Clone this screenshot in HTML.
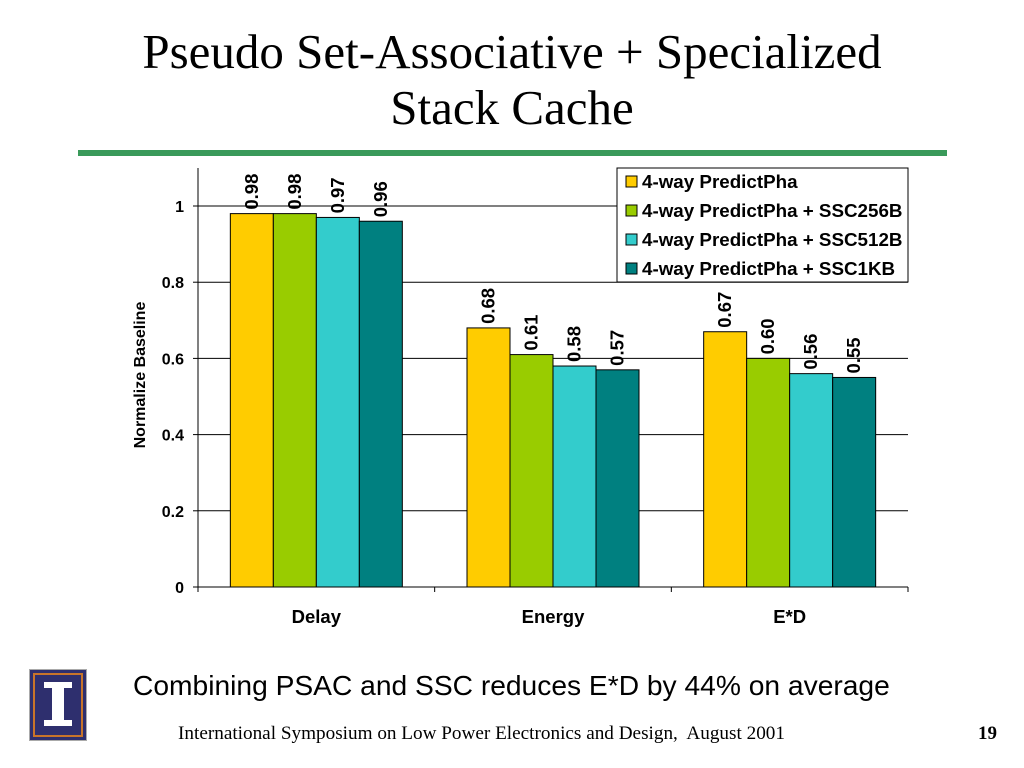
<!DOCTYPE html>
<html><head><meta charset="utf-8"><style>
body{margin:0;width:1024px;height:768px;background:#fff;overflow:hidden;position:relative;font-family:"Liberation Sans",sans-serif}
.t{position:absolute;left:0;width:1024px;text-align:center;font-family:"Liberation Serif",serif;font-size:49px;line-height:56px;color:#000}
</style></head><body>
<div class="t" style="top:24px">Pseudo Set-Associative + Specialized<br>Stack Cache</div>
<div style="position:absolute;left:78px;top:150px;width:869px;height:6px;background:#3a9a5a"></div>
<svg id="chart" width="1024" height="768" style="position:absolute;left:0;top:0">
</svg>
<div style="position:absolute;left:133px;top:669px;font-size:28.2px;color:#000">Combining PSAC and SSC reduces E*D by 44% on average</div>
<div style="position:absolute;left:178px;top:723px;font-family:'Liberation Serif',serif;font-size:19.2px">International Symposium on Low Power Electronics and Design,&nbsp; August 2001</div>
<div style="position:absolute;left:978px;top:723px;font-family:'Liberation Serif',serif;font-size:19px;font-weight:bold">19</div>
<div style="position:absolute;left:29px;top:669px;width:56px;height:70px;background:#2e2f6e;border:1px solid #aaa">
<div style="position:absolute;left:3px;top:3px;width:46px;height:60px;border:2px solid #c8742a"></div>
<div style="position:absolute;left:14px;top:12px;width:28px;height:6px;background:#fff"></div>
<div style="position:absolute;left:22px;top:16px;width:12px;height:36px;background:#fff"></div>
<div style="position:absolute;left:14px;top:50px;width:28px;height:6px;background:#fff"></div>
</div>
<script>
const categories=["Delay","Energy","E*D"];
const seriesNames=["4-way PredictPha","4-way PredictPha + SSC256B","4-way PredictPha + SSC512B","4-way PredictPha + SSC1KB"];
const s1=[0.98,0.68,0.67];
const s2=[0.98,0.61,0.60];
const s3=[0.97,0.58,0.56];
const s4=[0.96,0.57,0.55];
const yTicks=[0,0.2,0.4,0.6,0.8,1];
const yTickLabels=["0","0.2","0.4","0.6","0.8","1"];
const series=[s1,s2,s3,s4];
const colors=["#ffcc00","#99cc00","#33cccc","#008080"];
const svg=document.getElementById('chart');
const NS="http://www.w3.org/2000/svg";
const X0=198,X1=908,Y0=587,Y1=206;
const y=v=>Y0-(Y0-Y1)*v;
const gw=(X1-X0)/categories.length;
const bw=43;
function mk(t,a){const e=document.createElementNS(NS,t);for(const k in a)e.setAttribute(k,a[k]);svg.appendChild(e);return e;}
yTicks.forEach((v,i)=>{
 if(v>0){const g=mk('line',{x1:X0,x2:X1,y1:y(v),y2:y(v),stroke:'#000','stroke-width':1});
 
 }
 const tk=mk('line',{x1:X0-5,x2:X0,y1:y(v),y2:y(v),stroke:'#000'});
 
 
 const t=mk('text',{x:X0-14,y:y(v)+6,'text-anchor':'end','font-size':16,'font-weight':'bold','font-family':'Liberation Sans'});
 t.textContent=yTickLabels[i];
 
 
});
const ya=mk('line',{x1:X0,x2:X0,y1:168,y2:Y0,stroke:'#000'});


const xa=mk('line',{x1:X0,x2:X1,y1:Y0,y2:Y0,stroke:'#000'});


for(let i=0;i<=categories.length;i++){const l=mk('line',{x1:X0+gw*i,x2:X0+gw*i,y1:Y0,y2:Y0+5,stroke:'#000'});
 
 }
categories.forEach((c,ci)=>{
 const gx=X0+gw*ci+(gw-4*bw)/2;
 series.forEach((s,si)=>{
  const bx=gx+si*bw, v=s[ci];
  const r=mk('rect',{x:bx,y:y(v),width:bw,height:Y0-y(v),fill:colors[si],stroke:'#000','stroke-width':1});
  
  
  const tx=bx+bw/2+6, ty=y(v)-4;
  const t=mk('text',{x:tx,y:ty,transform:`rotate(-90 ${tx} ${ty})`,'font-size':18.5,'font-weight':'bold','font-family':'Liberation Sans'});
  t.textContent=v.toFixed(2);
  
  
 });
 const t=mk('text',{x:X0+gw*ci+gw/2,y:623,'text-anchor':'middle','font-size':18.5,'font-weight':'bold','font-family':'Liberation Sans'});
 t.textContent=c;
 
 
});
const yt=mk('text',{x:145,y:375,transform:'rotate(-90 145 375)','text-anchor':'middle','font-size':16,'font-weight':'bold','font-family':'Liberation Sans'});
yt.textContent='Normalize Baseline';


const lg=mk('rect',{x:617,y:168,width:291,height:114,fill:'#fff',stroke:'#000'});


seriesNames.forEach((n,i)=>{
 const ly=175+i*29;
 const sw=mk('rect',{x:626,y:ly+1,width:11,height:11,fill:colors[i],stroke:'#000'});
 
 
 const t=mk('text',{x:642,y:ly+13,'font-size':18.8,'font-weight':'bold','font-family':'Liberation Sans'});
 t.textContent=n;
 
 
});
</script>
</body></html>
